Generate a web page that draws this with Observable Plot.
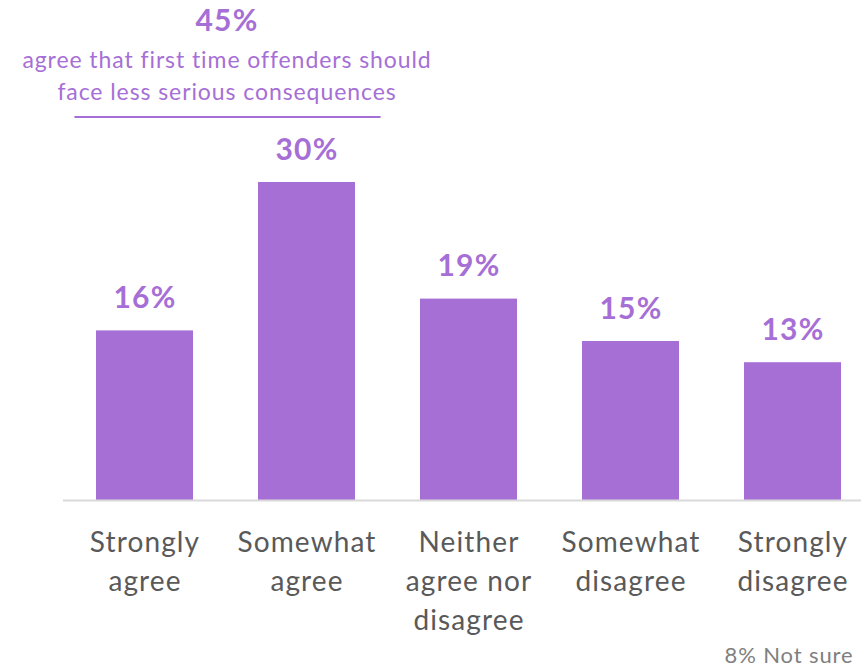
<!DOCTYPE html>
<html>
<head>
<meta charset="utf-8">
<script src="https://cdn.jsdelivr.net/npm/d3@7"></script>
<script src="https://cdn.jsdelivr.net/npm/@observablehq/plot@0.6"></script>
<style>
  html, body { margin: 0; padding: 0; background: #fff; }
  #chart svg { display: block; }
  #chart svg text { letter-spacing: 0.04em; }
</style>
</head>
<body>
<div id="chart"></div>
<script>
const categories = ["Strongly agree", "Somewhat agree", "Neither agree nor disagree", "Somewhat disagree", "Strongly disagree"];
const tickLabels = ["Strongly\nagree", "Somewhat\nagree", "Neither\nagree nor\ndisagree", "Somewhat\ndisagree", "Strongly\ndisagree"];
const values = [16, 30, 19, 15, 13];
const annotationValue = "45%";
const annotationText = "agree that first time offenders should\nface less serious consequences";
const notSure = "8% Not sure";

const purple = "#A66FD6";
const data = categories.map((c, i) => ({category: c, value: values[i], label: tickLabels[i]}));
const maxValue = d3.max(values);

const chart = Plot.plot({
  width: 861,
  height: 668,
  marginLeft: 63,
  marginRight: 0,
  marginTop: 0,
  marginBottom: 168,
  style: {fontFamily: "Lato, 'Open Sans', sans-serif", background: "#fff"},
  x: {domain: categories, range: [62, 876], paddingInner: 0.4, paddingOuter: 0.2, axis: null},
  y: {domain: [0, 30], range: [500, 182], axis: null},
  marks: [
    Plot.barY(data, {x: "category", y: "value", fill: purple}),
    Plot.ruleY([0], {stroke: "#d9d9d9", strokeWidth: 2}),
    Plot.text(data, {x: "category", y: "value", text: d => d.value + "%", fill: purple,
      fontSize: 30, fontWeight: "bold", lineAnchor: "bottom", dy: -23}),
    Plot.text(data, {x: "category", text: "label", frameAnchor: "bottom", lineAnchor: "top",
      dy: 24, fontSize: 28, lineHeight: 1.39, fill: "#595959"}),
    Plot.text([annotationValue], {x: () => categories[0], text: d => d, frameAnchor: "top",
      lineAnchor: "top", dx: 82, dy: 9, fontSize: 30, fontWeight: "bold", fill: purple}),
    Plot.text([annotationText], {x: () => categories[0], text: d => d, frameAnchor: "top",
      lineAnchor: "top", dx: 82, dy: 45, fontSize: 23, lineHeight: 1.39, fill: purple}),
    Plot.ruleY([maxValue], {x1: () => categories[0], x2: () => categories[1], dy: -65.5,
      insetLeft: -21.6, insetRight: -25.6, stroke: purple, strokeWidth: 2}),
    Plot.text([notSure], {text: d => d, frameAnchor: "bottom-right", textAnchor: "end",
      lineAnchor: "bottom", dx: -8, dy: 162, fontSize: 22, fill: "#808080"})
  ]
});
document.getElementById("chart").appendChild(chart);
</script>
</body>
</html>
